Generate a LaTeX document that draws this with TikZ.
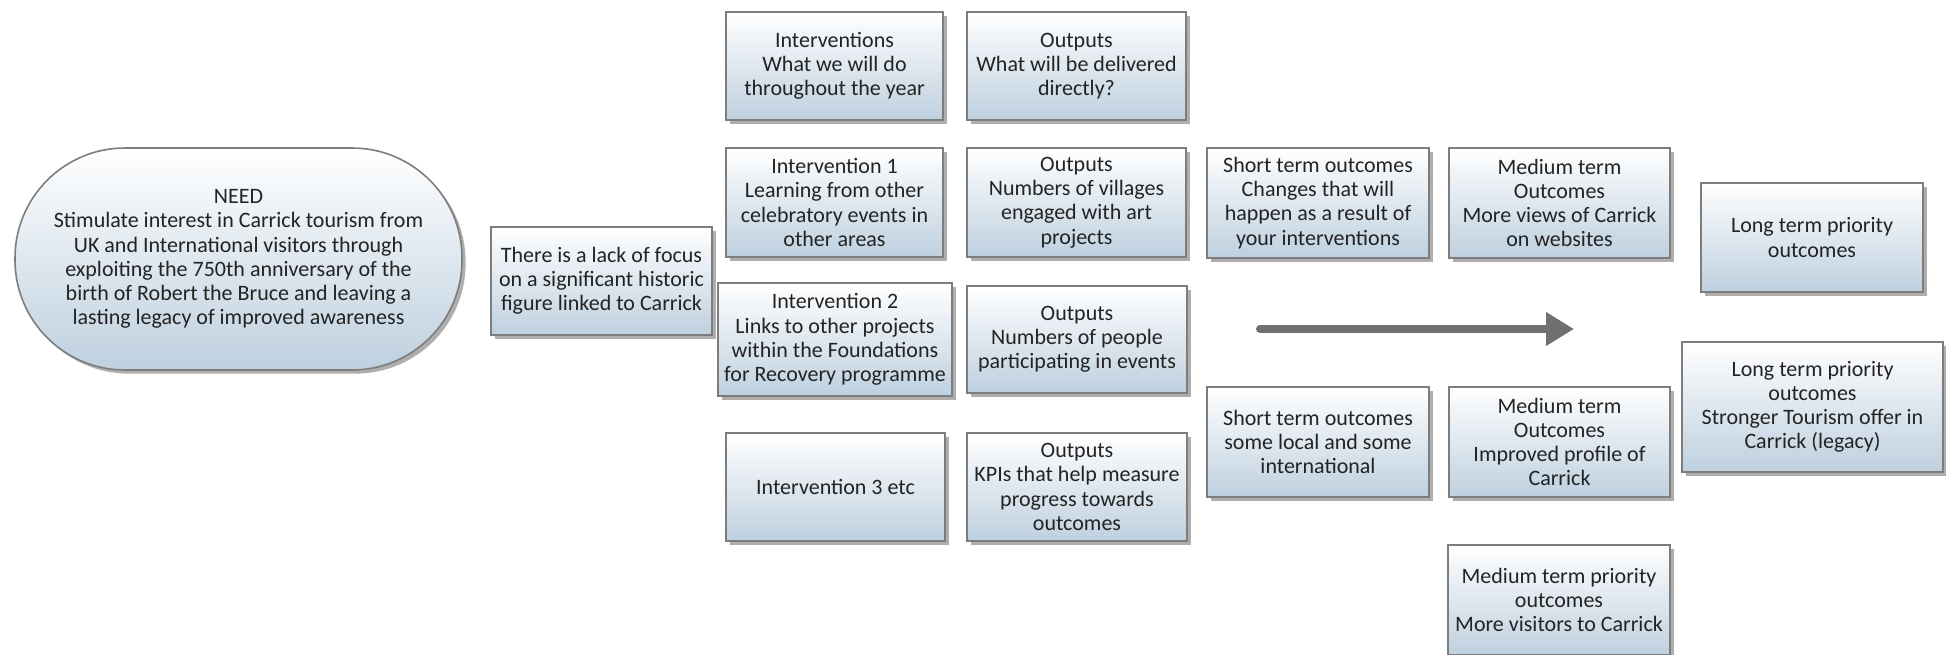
\documentclass[tikz,border=0pt]{standalone}
\usepackage{fontspec}
\setmainfont{Carlito}
\usetikzlibrary{shadows,arrows.meta}
\definecolor{boxbot}{RGB}{190,208,223}
\definecolor{boxline}{RGB}{125,125,125}
\definecolor{txt}{RGB}{35,35,35}
\definecolor{arrowgray}{RGB}{112,112,112}
\begin{document}
\begin{tikzpicture}[x=0.5pt,y=-0.5pt,
  box/.style={draw=boxline, line width=0.8pt, top color=white, bottom color=boxbot,
    align=center, font=\fontsize{11}{12.1}\selectfont, text=txt, inner sep=0pt,
    drop shadow={shadow xshift=1.8pt, shadow yshift=-1.8pt, opacity=0.45, fill=black!70}},
  std/.style={box, minimum width=109.5pt, minimum height=54.5pt},
]
\useasboundingbox (0,0) rectangle (1946,654);

\node[box, rounded corners=55pt, minimum width=223.5pt, minimum height=111pt] (need) at (238.5,259)
  {NEED\\Stimulate interest in Carrick tourism from\\UK and International visitors through\\exploiting the 750th anniversary of the\\birth of Robert the Bruce and leaving a\\lasting legacy of improved awareness};

\node[box, minimum width=110.5pt, minimum height=54pt] (lack) at (601.5,281)
  {There is a lack of focus\\on a significant historic\\figure linked to Carrick};

\node[box, minimum width=108.5pt, minimum height=54pt] (iv0) at (834.5,66)
  {Interventions\\What we will do\\throughout the year};
\node[std, minimum height=54pt] (op0) at (1076.5,66)
  {Outputs\\What will be delivered\\directly?};

\node[box, minimum width=108.5pt, minimum height=54.5pt] (iv1) at (834.5,202.5)
  {Intervention 1\\Learning from other\\celebratory events in\\other areas};
\node[std] (op1) at (1076.5,202.5)
  {Outputs\\Numbers of villages\\engaged with art\\projects};

\node[box, minimum width=117pt, minimum height=56.5pt] (iv2) at (835,339.5)
  {Intervention 2\\Links to other projects\\within the Foundations\\for Recovery programme};
\node[std, minimum width=110pt, minimum height=53.5pt] (op2) at (1077,339.5)
  {Outputs\\Numbers of people\\participating in events};

\node[box, minimum width=109.5pt, minimum height=54pt] (iv3) at (835.5,487)
  {Intervention 3 etc};
\node[std, minimum width=110pt, minimum height=54pt] (op3) at (1077,487)
  {Outputs\\KPIs that help measure\\progress towards\\outcomes};

\node[std, minimum width=111pt, minimum height=55pt] (st1) at (1318,203)
  {Short term outcomes\\Changes that will\\happen as a result of\\your interventions};
\node[std, minimum width=110.5pt, minimum height=55pt] (mt1) at (1559.5,203)
  {Medium term\\Outcomes\\More views of Carrick\\on websites};
\node[std, minimum width=111pt, minimum height=54.5pt] (lt1) at (1812,237.5)
  {Long term priority\\outcomes};

\node[std, minimum width=130.5pt, minimum height=65pt] (lt2) at (1812.5,407)
  {Long term priority\\outcomes\\Stronger Tourism offer in\\Carrick (legacy)};
\node[std, minimum width=111pt, minimum height=55pt] (st2) at (1318,442)
  {Short term outcomes\\some local and some\\international};
\node[std, minimum width=110.5pt, minimum height=55pt] (mt2) at (1559.5,442)
  {Medium term\\Outcomes\\Improved profile of\\Carrick};
\node[std, minimum width=111pt, minimum height=55pt] (mp) at (1559,600)
  {Medium term priority\\outcomes\\More visitors to Carrick};

\coordinate (arrS) at (1260,329);
\coordinate (arrE) at (1574,329);
\draw[line width=4pt, draw=arrowgray, line cap=round,
  -{Triangle[length=14pt,width=16pt]}, arrowgray] (arrS) -- (arrE);
\end{tikzpicture}
\end{document}
